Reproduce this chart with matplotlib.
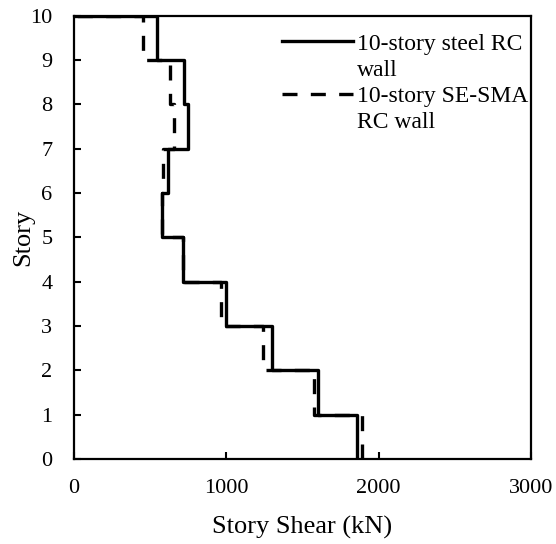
import numpy as np
import matplotlib
matplotlib.use("Agg")
import matplotlib.pyplot as plt
from matplotlib.lines import Line2D

plt.rcParams['font.family'] = ['Liberation Serif', 'DejaVu Serif']

# story shear per story (story 1 at the bottom to story 10 at the top), kN
stories = np.arange(1, 11)
shear_steel = [1856, 1605, 1302, 996, 718, 576, 619, 748, 722, 543]
shear_sma = [1893, 1576, 1243, 963, 718, 576, 587, 657, 630, 455]

# legend text, wrapped over two rows each
labels = [['10-story steel RC', 'wall'], ['10-story SE-SMA', 'RC wall']]


def profile(shear):
    # stepped profile: vertical over each story, horizontal at each floor
    v = np.asarray(shear, dtype=float)
    x = np.append(np.repeat(v, 2), 0.0)
    y = np.append(np.concatenate([[s - 1, s] for s in stories]), stories[-1])
    return x, y


fig = plt.figure(figsize=(5.56, 5.44), dpi=100)
ax = fig.add_axes([0.133, 0.156, 0.822, 0.815])

x1, y1 = profile(shear_steel)
x2, y2 = profile(shear_sma)
l1, = ax.plot(x1, y1, color='black', lw=2.4, zorder=3)
l2, = ax.plot(x2, y2, color='black', lw=2.4, dashes=(4.5, 4), zorder=2)

ax.set_xlim(0, 3000)
ax.set_ylim(0, 10)
ax.set_xticks([0, 1000, 2000, 3000])
ax.set_yticks(range(0, 11))
ax.tick_params(direction='in', length=5, width=1.5, labelsize=16)
ax.tick_params(axis='x', pad=14)
ax.tick_params(axis='y', pad=15.5)
for sp in ax.spines.values():
    sp.set_linewidth(1.6)

ax.set_xlabel('Story Shear (kN)', fontsize=19, labelpad=13.5)
ax.set_ylabel('Story', fontsize=19, labelpad=-3)

# each label takes two legend rows so the handle sits on the first row
blank = Line2D([], [], color='none')
handles = [l1, blank, l2, blank]
texts = labels[0] + labels[1]
ax.legend(handles, texts, loc='upper right', bbox_to_anchor=(1.0, 0.966),
          frameon=False, fontsize=17, handlelength=3, handletextpad=0.2,
          borderaxespad=0.0, labelspacing=0.2, borderpad=0.1)

fig.savefig('out.png', dpi=100)
